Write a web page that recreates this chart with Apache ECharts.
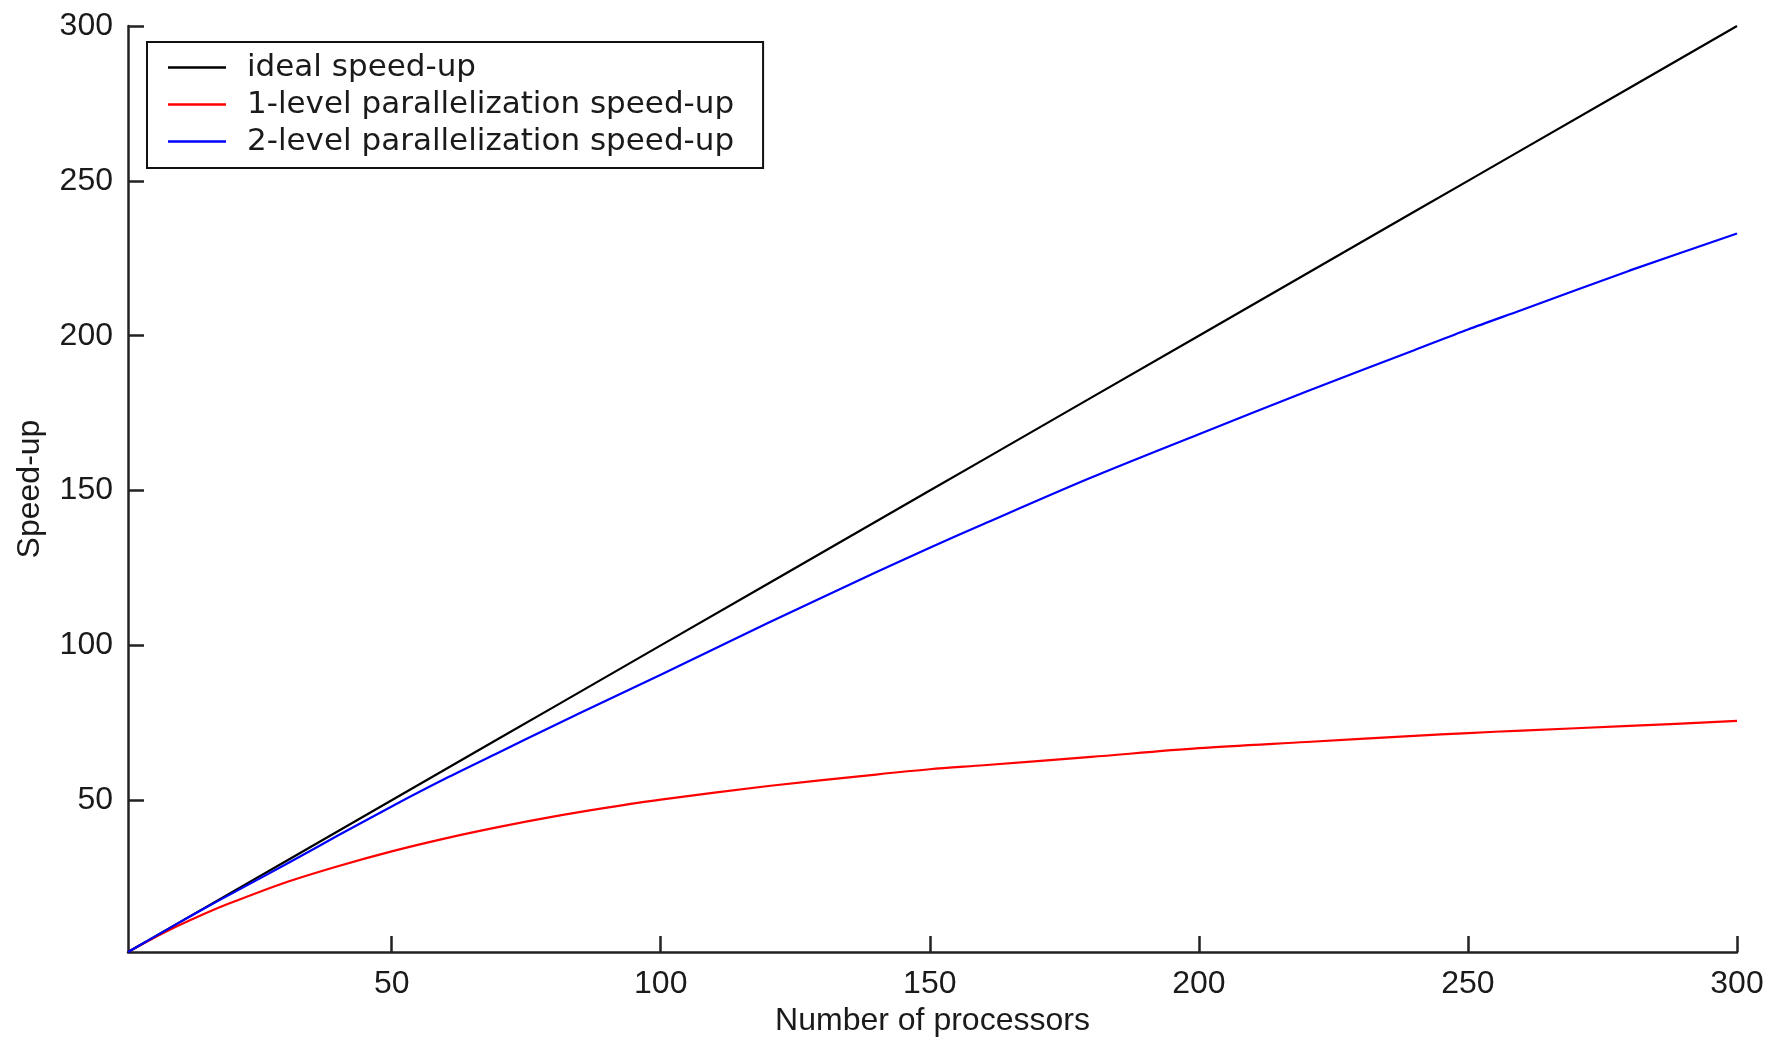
<!DOCTYPE html>
<html>
<head>
<meta charset="utf-8">
<script src="https://cdn.jsdelivr.net/npm/echarts@6/dist/echarts.min.js"></script>
<style>
html,body{margin:0;padding:0;background:#fff;}
#chart{width:1775px;height:1044px;}
</style>
</head>
<body>
<div id="chart"></div>
<script>
// Data
const seriesNames = ['ideal speed-up', '1-level parallelization speed-up', '2-level parallelization speed-up'];
const processors = [1, 5, 10, 15, 20, 30, 40, 50, 60, 70, 80, 90, 100, 120, 140, 150, 160, 180, 200, 220, 240, 250, 260, 280, 300];
const idealSpeedup = [1, 5, 10, 15, 20, 30, 40, 50, 60, 70, 80, 90, 100, 120, 140, 150, 160, 180, 200, 220, 240, 250, 260, 280, 300];
const level1Speedup = [1, 4.8, 9.2, 13.2, 16.8, 23.3, 28.7, 33.5, 37.7, 41.4, 44.7, 47.6, 50.2, 54.6, 58.3, 60.0, 61.3, 64.0, 66.8, 68.8, 70.8, 71.7, 72.5, 74.0, 75.6];
const level2Speedup = [1, 5, 10, 14.9, 19.6, 29.0, 38.6, 48.0, 57.0, 65.5, 74.0, 82.3, 90.5, 107.3, 123.6, 131.5, 139.2, 154.2, 168.2, 182.0, 195.3, 202.0, 208.3, 221.0, 233.0];
const tickValues = [50, 100, 150, 200, 250, 300];

function pairs(ys) { return processors.map((x, i) => [x, ys[i]]); }

const chart = echarts.init(document.getElementById('chart'), null, {renderer: 'canvas'});
const axisFont = {fontFamily: 'Liberation Sans', fontSize: 32, color: '#1a1a1a'};
const axisCommon = {
  type: 'value', min: 1, max: 300,
  axisLine: {show: true, onZero: false, lineStyle: {color: '#222', width: 2.5}},
  axisTick: {show: true, inside: true, length: 16, lineStyle: {color: '#222', width: 2.5}, customValues: tickValues},
  splitLine: {show: false},
  nameLocation: 'middle',
  nameTextStyle: axisFont
};
chart.setOption({
  animation: false,
  backgroundColor: '#fff',
  grid: {left: 128, right: 38, top: 26, bottom: 92, containLabel: false},
  legend: {
    orient: 'vertical', left: 147, top: 42,
    data: seriesNames.map(n => ({name: n, icon: 'rect'})),
    backgroundColor: '#fff',
    borderColor: '#111', borderWidth: 2, borderRadius: 0,
    padding: [7, 29, 8, 21],
    itemGap: 0, itemWidth: 58, itemHeight: 2.5,
    textStyle: {fontFamily: 'DejaVu Sans', fontSize: 31, color: '#1a1a1a', lineHeight: 37, padding: [0, 0, 0, 16]}
  },
  xAxis: Object.assign({}, axisCommon, {
    name: 'Number of processors', nameGap: 48,
    axisLabel: Object.assign({margin: 16, customValues: tickValues}, axisFont)
  }),
  yAxis: Object.assign({}, axisCommon, {
    name: 'Speed-up', nameGap: 82, nameRotate: 90,
    axisLabel: Object.assign({margin: 15, customValues: tickValues}, axisFont)
  }),
  series: [
    {name: seriesNames[0], type: 'line', data: pairs(idealSpeedup), symbol: 'none', showSymbol: false, color: '#000', lineStyle: {color: '#000', width: 2.2}, z: 3},
    {name: seriesNames[1], type: 'line', data: pairs(level1Speedup), symbol: 'none', showSymbol: false, smooth: 0.3, color: '#ff0000', lineStyle: {color: '#ff0000', width: 2.2}, z: 2},
    {name: seriesNames[2], type: 'line', data: pairs(level2Speedup), symbol: 'none', showSymbol: false, smooth: 0.3, color: '#0000ff', lineStyle: {color: '#0000ff', width: 2.2}, z: 4}
  ]
});
</script>
</body>
</html>
